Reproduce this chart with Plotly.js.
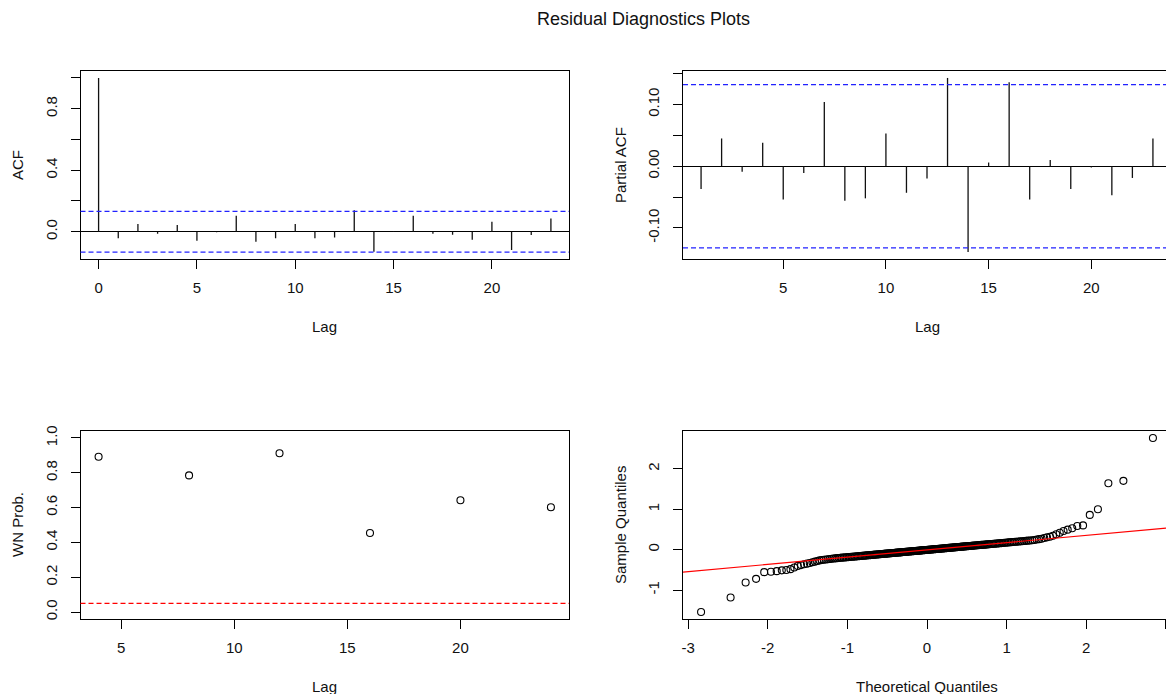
<!DOCTYPE html>
<html>
<head>
<meta charset="utf-8">
<script src="https://cdn.plot.ly/plotly-3.0.1.min.js"></script>
<style>html,body{margin:0;padding:0;background:#fff;}#chart{width:1166px;height:694px;}</style>
</head>
<body>
<div id="chart"></div>
<script>
// ---------------- DATA ----------------
const acfLags = [0,1,2,3,4,5,6,7,8,9,10,11,12,13,14,15,16,17,18,19,20,21,22,23];
const acfValues = [1.0,-0.043,0.050,-0.013,0.043,-0.058,-0.004,0.104,-0.065,-0.043,0.050,-0.043,-0.037,0.140,-0.130,0.003,0.104,-0.013,-0.020,-0.052,0.065,-0.119,-0.022,0.086];

const pacfLags = [1,2,3,4,5,6,7,8,9,10,11,12,13,14,15,16,17,18,19,20,21,22,23];
const pacfValues = [-0.037,0.045,-0.009,0.038,-0.054,-0.011,0.104,-0.056,-0.052,0.053,-0.043,-0.020,0.143,-0.139,0.006,0.136,-0.054,0.010,-0.037,-0.002,-0.047,-0.019,0.045];

const wnLags = [4,8,12,16,20,24];
const wnProb = [0.892,0.785,0.912,0.454,0.642,0.602];
const wnLevel = 0.05;

// sorted residuals (sample quantiles)
const residuals = [
-1.54,-1.18,-0.81,-0.72,-0.555,-0.545,-0.53,-0.51,-0.50,-0.48,
-0.44,-0.40,-0.38,-0.36,-0.345,-0.33,-0.31,-0.295,-0.28,-0.265,
-0.255,-0.248,-0.241,-0.235,-0.229,-0.224,-0.219,-0.214,-0.209,-0.204,
-0.200,-0.197,-0.193,-0.190,-0.186,-0.183,-0.180,-0.176,-0.173,-0.170,
-0.167,-0.164,-0.161,-0.158,-0.155,-0.152,-0.149,-0.147,-0.144,-0.141,
-0.138,-0.136,-0.133,-0.131,-0.128,-0.125,-0.123,-0.120,-0.118,-0.115,
-0.113,-0.110,-0.108,-0.105,-0.103,-0.101,-0.098,-0.096,-0.093,-0.091,
-0.089,-0.087,-0.084,-0.082,-0.080,-0.078,-0.076,-0.073,-0.071,-0.069,
-0.067,-0.065,-0.062,-0.060,-0.058,-0.056,-0.054,-0.051,-0.049,-0.047,
-0.045,-0.043,-0.041,-0.039,-0.037,-0.035,-0.033,-0.031,-0.029,-0.027,
-0.025,-0.023,-0.020,-0.018,-0.016,-0.014,-0.012,-0.010,-0.008,-0.006,
-0.004,-0.002,0.000,0.002,0.004,0.006,0.008,0.011,0.013,0.015,
0.017,0.019,0.021,0.023,0.025,0.027,0.029,0.031,0.033,0.035,
0.037,0.039,0.042,0.044,0.046,0.048,0.050,0.053,0.055,0.057,
0.059,0.061,0.064,0.066,0.068,0.070,0.072,0.075,0.077,0.079,
0.081,0.084,0.086,0.089,0.091,0.093,0.096,0.098,0.101,0.103,
0.105,0.108,0.110,0.113,0.115,0.118,0.120,0.123,0.125,0.128,
0.131,0.134,0.136,0.139,0.142,0.145,0.148,0.151,0.154,0.157,
0.160,0.163,0.167,0.170,0.173,0.177,0.180,0.184,0.187,0.191,
0.195,0.198,0.202,0.206,0.210,0.214,0.219,0.224,0.228,0.233,
0.240,0.250,0.260,0.272,0.290,0.305,0.320,0.345,0.380,0.420,
0.460,0.495,0.530,0.585,0.600,0.860,1.000,1.640,1.700,2.760
];

const acfTickVals = [0,5,10,15,20];
const acfYTickVals = [0,0.2,0.4,0.6,0.8,1.0];
const acfYTickText = ['0.0','','0.4','','0.8',''];
const pacfTickVals = [5,10,15,20];
const pacfYTickVals = [-0.10,-0.05,0,0.05,0.10,0.15];
const pacfYTickText = ['-0.10','','0.00','','0.10',''];
const wnTickVals = [5,10,15,20];
const wnYTickVals = [0,0.2,0.4,0.6,0.8,1.0];
const wnYTickText = ['0.0','0.2','0.4','0.6','0.8','1.0'];
const qqTickVals = [-3,-2,-1,0,1,2,3];
const qqTickText = ['-3','-2','-1','0','1','2','3'];
const qqYTickVals = [-1,0,1,2];
const qqYTickText = ['-1','0','1','2'];

// ---------------- HELPERS ----------------
function qnorm(p){
  const a=[-3.969683028665376e+01,2.209460984245205e+02,-2.759285104469687e+02,1.383577518672690e+02,-3.066479806614716e+01,2.506628277459239e+00];
  const b=[-5.447609879822406e+01,1.615858368580409e+02,-1.556989798598866e+02,6.680131188771972e+01,-1.328068155288572e+01];
  const c=[-7.784894002430293e-03,-3.223964580411365e-01,-2.400758277161838e+00,-2.549671010005102e+00,4.374664141464968e+00,2.938163982698783e+00];
  const d=[7.784695709041462e-03,3.224671290700398e-01,2.445134137142996e+00,3.754408661907416e+00];
  const plow=0.02425;
  let q,r;
  if(p<plow){q=Math.sqrt(-2*Math.log(p));return (((((c[0]*q+c[1])*q+c[2])*q+c[3])*q+c[4])*q+c[5])/((((d[0]*q+d[1])*q+d[2])*q+d[3])*q+1);}
  if(p<=1-plow){q=p-0.5;r=q*q;return (((((a[0]*r+a[1])*r+a[2])*r+a[3])*r+a[4])*r+a[5])*q/(((((b[0]*r+b[1])*r+b[2])*r+b[3])*r+b[4])*r+1);}
  q=Math.sqrt(-2*Math.log(1-p));
  return -(((((c[0]*q+c[1])*q+c[2])*q+c[3])*q+c[4])*q+c[5])/((((d[0]*q+d[1])*q+d[2])*q+d[3])*q+1);
}
function quantile7(s,p){const h=(s.length-1)*p;const lo=Math.floor(h);return s[lo]+(h-lo)*((s[Math.min(lo+1,s.length-1)])-s[lo]);}
function rlim(arr){const mn=Math.min(...arr),mx=Math.max(...arr);const e=0.04*(mx-mn);return [mn-e,mx+e];}
function stems(xs,ys){const X=[],Y=[];xs.forEach((x,i)=>{X.push(x,x,null);Y.push(0,ys[i],null);});return {x:X,y:Y};}

const n = residuals.length;
const ci = 1.96/Math.sqrt(n);
const sorted = residuals.slice().sort((a,b)=>a-b);
const theo = sorted.map((_,i)=>qnorm((i+1-0.5)/n));
const qy1=quantile7(sorted,0.25), qy2=quantile7(sorted,0.75);
const qx1=qnorm(0.25), qx2=qnorm(0.75);
const qqSlope=(qy2-qy1)/(qx2-qx1), qqInt=qy1-qqSlope*qx1;

// ---------------- LAYOUT GEOMETRY (px) ----------------
const W=1166,H=694;
const boxes = {
  acf:{l:80.5,r:569,t:71,b:259},
  pacf:{l:683,r:1171,t:71,b:259},
  wn:{l:80.5,r:569,t:431,b:619},
  qq:{l:683,r:1171,t:431,b:619}
};
function dom(bx){return {x:[bx.l/W,Math.min(bx.r,W)/W], y:[1-bx.b/H,1-bx.t/H]};}
function cropRange(bx,lim){const rr=Math.min(bx.r,W);return [lim[0], lim[0]+(lim[1]-lim[0])*(rr-bx.l)/(bx.r-bx.l)];}

const FONT = {family:'"Liberation Sans", Arial, sans-serif', size:15, color:'#111'};

function xax(bx,lim,tv,tt,mirror){
  const d=dom(bx);
  return {domain:d.x, range:cropRange(bx,lim), showgrid:false, zeroline:false, showline:true, mirror:mirror,
    linecolor:'#000', linewidth:1, ticks:'outside', ticklen:9, tickwidth:1, tickcolor:'#000',
    tickmode:'array', tickvals:tv, ticktext:tt, tickfont:FONT, ticklabelstandoff:6, fixedrange:true};
}
function yax(bx,lim,tv,tt,zero,mirror,anchor){
  const d=dom(bx);
  return {domain:d.y, range:lim, showgrid:false, zeroline:zero, zerolinecolor:'#000', zerolinewidth:1,
    showline:true, mirror:mirror, linecolor:'#000', linewidth:1, ticks:'outside', ticklen:9, tickwidth:1, tickcolor:'#000',
    tickmode:'array', tickvals:tv, ticktext:tt, tickangle:-90, tickfont:FONT, ticklabelstandoff:8, anchor:anchor, fixedrange:true};
}

const acfYLim = rlim(acfValues.concat([ci,-ci]));
const pacfYLim = rlim(pacfValues.concat([ci,-ci]));
const acfXLim = rlim(acfLags);
const pacfXLim = rlim(pacfLags);
const wnXLim = rlim(wnLags);
const wnYLim = rlim([0,1]);
const qqXLim = rlim(theo);
const qqYLim = rlim(sorted);

const acfS = stems(acfLags,acfValues);
const pacfS = stems(pacfLags,pacfValues);
const qqLineX = cropRange(boxes.qq,qqXLim);

const traces = [
  {x:acfS.x,y:acfS.y,xaxis:'x',yaxis:'y',mode:'lines',line:{color:'#111',width:1.3},hoverinfo:'skip',showlegend:false},
  {x:pacfS.x,y:pacfS.y,xaxis:'x2',yaxis:'y2',mode:'lines',line:{color:'#111',width:1.3},hoverinfo:'skip',showlegend:false},
  {x:wnLags,y:wnProb,xaxis:'x3',yaxis:'y3',mode:'markers',marker:{symbol:'circle-open',size:7,color:'#000',line:{width:1.1,color:'#000'}},showlegend:false},
  {x:theo,y:sorted,xaxis:'x4',yaxis:'y4',mode:'markers',marker:{symbol:'circle-open',size:7,color:'#000',line:{width:1.1,color:'#000'}},showlegend:false},
  {x:qqLineX,y:qqLineX.map(v=>qqInt+qqSlope*v),xaxis:'x4',yaxis:'y4',mode:'lines',line:{color:'#ff0000',width:1.1},showlegend:false,hoverinfo:'skip'}
];

function hline(xr,yr,y,color){return {type:'line',xref:xr+' domain',yref:yr,x0:0,x1:1,y0:y,y1:y,line:{color:color,width:1.3,dash:'5px,3px'}};}

function ann(text,x,y,angle,size){return {text:text,xref:'paper',yref:'paper',x:x/W,y:1-y/H,xanchor:'center',yanchor:'middle',showarrow:false,textangle:angle||0,font:{family:FONT.family,size:size||15,color:'#111'}};}

const layout = {
  width:W, height:H, margin:{l:0,r:0,t:0,b:0}, paper_bgcolor:'#fff', plot_bgcolor:'#fff', showlegend:false,
  font:FONT,
  xaxis: xax(boxes.acf,acfXLim,acfTickVals,acfTickVals.map(String),true),
  yaxis: yax(boxes.acf,acfYLim,acfYTickVals,acfYTickText,true,true,'x'),
  xaxis2: Object.assign(xax(boxes.pacf,pacfXLim,pacfTickVals,pacfTickVals.map(String),true),{anchor:'y2'}),
  yaxis2: yax(boxes.pacf,pacfYLim,pacfYTickVals,pacfYTickText,true,false,'x2'),
  xaxis3: Object.assign(xax(boxes.wn,wnXLim,wnTickVals,wnTickVals.map(String),true),{anchor:'y3'}),
  yaxis3: yax(boxes.wn,wnYLim,wnYTickVals,wnYTickText,false,true,'x3'),
  xaxis4: Object.assign(xax(boxes.qq,qqXLim,qqTickVals,qqTickText,true),{anchor:'y4'}),
  yaxis4: yax(boxes.qq,qqYLim,qqYTickVals,qqYTickText,false,false,'x4'),
  shapes:[
    hline('x','y',ci,'#2222ff'), hline('x','y',-ci,'#2222ff'),
    hline('x2','y2',ci,'#2222ff'), hline('x2','y2',-ci,'#2222ff'),
    hline('x3','y3',wnLevel,'#ff0000')
  ],
  annotations:[
    ann('Residual Diagnostics Plots',643.7,19,0,18),
    ann('ACF',17,165,-90), ann('Lag',324.8,326,0),
    ann('Partial ACF',620,165,-90), ann('Lag',927,326,0),
    ann('WN Prob.',17,525,-90), ann('Lag',324.8,686,0),
    ann('Sample Quantiles',620,525,-90), ann('Theoretical Quantiles',927,686,0)
  ]
};
layout.xaxis.anchor='y';

Plotly.newPlot('chart',traces,layout,{staticPlot:true,displayModeBar:false});
</script>
</body>
</html>
